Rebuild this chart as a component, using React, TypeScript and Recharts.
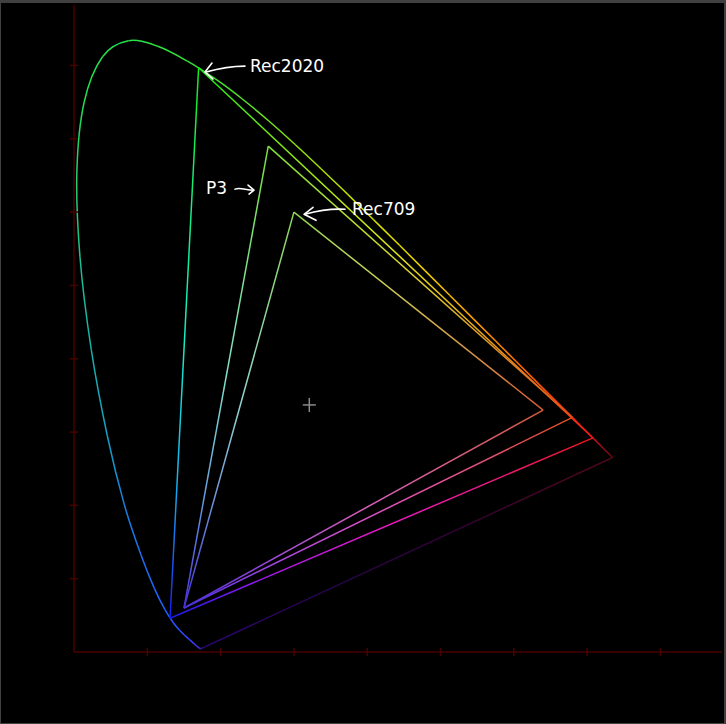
import React from "react";
import { ComposedChart, Line, Scatter, XAxis, YAxis } from "recharts";

// CIE 1931 2° spectral locus, 5 nm steps
const wavelengths = [
  380, 385, 390, 395, 400, 405, 410, 415, 420, 425, 430, 435, 440, 445, 450, 455, 460, 465, 470, 475, 480, 485,
  490, 495, 500, 505, 510, 515, 520, 525, 530, 535, 540, 545, 550, 555, 560, 565, 570, 575, 580, 585, 590, 595,
  600, 605, 610, 615, 620, 625, 630, 635, 640, 645, 650, 655, 660, 665, 670, 675, 680, 685, 690, 695, 700,
];
const locusX = [
  0.1741, 0.174, 0.1738, 0.1736, 0.1733, 0.173, 0.1726, 0.1721, 0.1714, 0.1703, 0.1689, 0.1669, 0.1644, 0.1611,
  0.1566, 0.151, 0.144, 0.1355, 0.1241, 0.1096, 0.0913, 0.0687, 0.0454, 0.0235, 0.0082, 0.0039, 0.0139, 0.0389,
  0.0743, 0.1142, 0.1547, 0.1929, 0.2296, 0.2658, 0.3016, 0.3373, 0.3731, 0.4087, 0.4441, 0.4788, 0.5125, 0.5448,
  0.5752, 0.6029, 0.627, 0.6482, 0.6658, 0.6801, 0.6915, 0.7006, 0.7079, 0.714, 0.719, 0.723, 0.726, 0.7283, 0.73,
  0.7311, 0.732, 0.7327, 0.7334, 0.734, 0.7344, 0.7346, 0.7347,
];
const locusY = [
  0.005, 0.005, 0.0049, 0.0049, 0.0048, 0.0048, 0.0048, 0.0048, 0.0051, 0.0058, 0.0069, 0.0086, 0.0109, 0.0138,
  0.0177, 0.0227, 0.0297, 0.0399, 0.0578, 0.0868, 0.1327, 0.2007, 0.295, 0.4127, 0.5384, 0.6548, 0.7502, 0.812,
  0.8338, 0.8262, 0.8059, 0.7816, 0.7543, 0.7243, 0.6923, 0.6589, 0.6245, 0.5896, 0.5547, 0.5202, 0.4866, 0.4544,
  0.4242, 0.3965, 0.3725, 0.3514, 0.334, 0.3197, 0.3083, 0.2993, 0.292, 0.2859, 0.2809, 0.277, 0.274, 0.2717, 0.27,
  0.2689, 0.268, 0.2673, 0.2666, 0.266, 0.2656, 0.2654, 0.2653,
];

// primaries: red, green, blue
const rec2020X = [0.708, 0.17, 0.131];
const rec2020Y = [0.292, 0.797, 0.046];
const p3X = [0.68, 0.265, 0.15];
const p3Y = [0.32, 0.69, 0.06];
const rec709X = [0.64, 0.3, 0.15];
const rec709Y = [0.33, 0.6, 0.06];

const whiteX = [0.321];
const whiteY = [0.337];

const labelNames = ["Rec2020", "P3", "Rec709"];
const labelTipX = [0.1787, 0.2456, 0.3138];
const labelTipY = [0.791, 0.63, 0.597];

const axisTicks = [0.1, 0.2, 0.3, 0.4, 0.5, 0.6, 0.7, 0.8];

const AXIS = "#4a0000";

const spectrumStops: [number, string][] = [
  [380, "#5a2cff"], [430, "#4a34ff"], [455, "#3048ff"], [470, "#2060ff"], [480, "#1c70f0"], [485, "#1880e0"],
  [490, "#14a0c4"], [495, "#18b0a8"], [500, "#1cc094"], [505, "#20d070"], [510, "#22dc52"], [520, "#24e445"],
  [535, "#40e030"], [545, "#70e020"], [555, "#a8e000"], [565, "#d4e000"], [575, "#eed000"], [585, "#ffa000"],
  [595, "#ff7000"], [605, "#ff4a08"], [615, "#ff2a18"], [627, "#f01424"], [635, "#b00c1c"], [650, "#880a14"],
  [700, "#700810"],
];

const hex = (s: string) => [1, 3, 5].map((i) => parseInt(s.slice(i, i + 2), 16));

function spectrumColor(w: number) {
  for (let i = 0; i < spectrumStops.length - 1; i++) {
    const [w0, c0] = spectrumStops[i];
    const [w1, c1] = spectrumStops[i + 1];
    if (w >= w0 && w <= w1) {
      const t = (w - w0) / (w1 - w0);
      const a = hex(c0);
      const b = hex(c1);
      const m = a.map((v, k) => Math.round(v + (b[k] - v) * t));
      return `rgb(${m[0]},${m[1]},${m[2]})`;
    }
  }
  return spectrumStops[spectrumStops.length - 1][1];
}

// xy -> normalized Rec2020 colour
function gamutColor(x: number, y: number, k = 0.9) {
  const X = x / y;
  const Z = (1 - x - y) / y;
  const r = Math.max(0, 1.7167 * X - 0.3557 - 0.2534 * Z);
  const g = Math.max(0, -0.6667 * X + 1.6165 + 0.0158 * Z);
  const b = Math.max(0, 0.0176 * X - 0.0428 + 0.9421 * Z);
  const m = Math.max(r, g, b);
  const enc = (v: number) => Math.round(255 * k * (0.1 + 0.9 * Math.pow(v / m, 1 / 2.2)));
  return `rgb(${enc(r)},${enc(g)},${enc(b)})`;
}

// draws only the middle piece of a 4-point Catmull-Rom run, so locus pieces join smoothly
const middleSpline = (context: any) => {
  let pts: number[][] = [];
  return {
    areaStart() {},
    areaEnd() {},
    lineStart() {
      pts = [];
    },
    point(x: number, y: number) {
      pts.push([x, y]);
    },
    lineEnd() {
      const [p0, p1, p2, p3] = pts;
      context.moveTo(p1[0], p1[1]);
      context.bezierCurveTo(
        p1[0] + (p2[0] - p0[0]) / 6,
        p1[1] + (p2[1] - p0[1]) / 6,
        p2[0] - (p3[0] - p1[0]) / 6,
        p2[1] - (p3[1] - p1[1]) / 6,
        p2[0],
        p2[1]
      );
    },
  };
};

type Pt = { x: number; y: number };
type Seg = { id: string; pts: Pt[]; stops: string[]; curve?: boolean };

const segments: Seg[] = [];
const last = locusX.length - 1;

// line of purples
segments.push({
  id: "purples",
  pts: [
    { x: locusX[0], y: locusY[0] },
    { x: locusX[last], y: locusY[last] },
  ],
  stops: ["#2a0674", "#26044a", "#340230", "#4c0818"],
});

const locPt = (i: number) => {
  const j = Math.max(0, Math.min(last, i));
  return { x: locusX[j], y: locusY[j] };
};

wavelengths.slice(0, -1).forEach((w, i) => {
  segments.push({
    id: `loc${i}`,
    pts: [locPt(i - 1), locPt(i), locPt(i + 1), locPt(i + 2)],
    stops: [spectrumColor(w), spectrumColor(wavelengths[i + 1])],
    curve: true,
  });
});

const gamuts = [
  { name: "rec2020", xs: rec2020X, ys: rec2020Y, k: 0.92 },
  { name: "p3", xs: p3X, ys: p3Y, k: 0.88 },
  { name: "rec709", xs: rec709X, ys: rec709Y, k: 0.84 },
];
gamuts.forEach((g) => {
  [[0, 1], [1, 2], [2, 0]].forEach(([a, b]) => {
    const p1 = { x: g.xs[a], y: g.ys[a] };
    const p2 = { x: g.xs[b], y: g.ys[b] };
    const stops = [0, 0.25, 0.5, 0.75, 1].map((t) =>
      gamutColor(p1.x + (p2.x - p1.x) * t, p1.y + (p2.y - p1.y) * t, g.k)
    );
    segments.push({ id: `${g.name}${a}${b}`, pts: [p1, p2], stops });
  });
});

const ends = (s: Seg) => (s.curve ? [s.pts[1], s.pts[2]] : [s.pts[0], s.pts[1]]);
const flat = (s: Seg) => {
  const [p1, p2] = ends(s);
  return Math.abs(p1.x - p2.x) < 4e-4 || Math.abs(p1.y - p2.y) < 4e-4;
};

const Gradient = ({ s }: { s: Seg }) => {
  const [p1, p2] = ends(s);
  const gx1 = p1.x <= p2.x ? 0 : 1;
  const gy1 = p1.y >= p2.y ? 0 : 1;
  return (
    <linearGradient id={s.id} x1={gx1} y1={gy1} x2={1 - gx1} y2={1 - gy1}>
      {s.stops.map((c, i) => (
        <stop key={i} offset={i / (s.stops.length - 1)} stopColor={c} />
      ))}
    </linearGradient>
  );
};

const annotationStyle: Record<string, { shaft: string; head: string; tx: number; ty: number; anchor: "start" | "end" }> = {
  Rec2020: { shaft: "M40,-6 Q22,-6 1,0", head: "M7,-9 L0,0 L8,7", tx: 45, ty: 0, anchor: "start" },
  P3: { shaft: "M-19,-1 C-14,-3 -8,0 -1,0", head: "M-6,-5 L0,0 L-5,4", tx: -27, ty: 4, anchor: "end" },
  Rec709: { shaft: "M41,-5 Q22,-6 1,0", head: "M9,-7 L0,0 L12,6", tx: 48, ty: 1, anchor: "start" },
};

const Annotation = (props: any) => {
  const { cx, cy, payload } = props;
  const st = annotationStyle[payload.name];
  return (
    <g transform={`translate(${cx},${cy})`}>
      <path d={st.shaft} fill="none" stroke="#fff" strokeWidth={1.6} strokeLinecap="round" />
      <path d={st.head} fill="none" stroke="#fff" strokeWidth={1.6} strokeLinecap="round" strokeLinejoin="round" />
      <text x={st.tx} y={st.ty} textAnchor={st.anchor} fill="#fff" fontSize={17} fontFamily="DejaVu Sans">
        {payload.name}
      </text>
    </g>
  );
};

const Crosshair = (props: any) => {
  const { cx, cy } = props;
  return (
    <g stroke="#8a8a8a" strokeWidth={1.5}>
      <line x1={cx - 6.5} x2={cx + 6.5} y1={cy} y2={cy} />
      <line x1={cx} x2={cx} y1={cy - 7} y2={cy + 7} />
    </g>
  );
};

const XTick = (props: any) => (
  <line x1={props.x} x2={props.x} y1={props.y - 4} y2={props.y + 4} stroke={AXIS} strokeWidth={1.5} />
);
const YTick = (props: any) => (
  <line x1={props.x - 4} x2={props.x + 4} y1={props.y} y2={props.y} stroke={AXIS} strokeWidth={1.5} />
);

const whiteData = whiteX.map((x, i) => ({ x, y: whiteY[i] }));
const labelData = labelNames.map((name, i) => ({ x: labelTipX[i], y: labelTipY[i], name }));

export default function App() {
  return (
    <div style={{ position: "relative", width: 726, height: 724, background: "#404040" }}>
      <style>{"body{margin:0}"}</style>
      <div style={{ position: "absolute", left: 1, top: 3, width: 723, height: 720, background: "#000" }} />
      <svg width={0} height={0} style={{ position: "absolute" }}>
        <defs>
          {segments.filter((s) => !flat(s)).map((s) => (
            <Gradient key={s.id} s={s} />
          ))}
        </defs>
      </svg>
      <div style={{ position: "absolute", left: 0, top: 0 }}>
        <ComposedChart width={726} height={724} margin={{ top: 5, right: 4, left: 44, bottom: 42 }}>
          <XAxis
            type="number"
            dataKey="x"
            domain={[0, 0.884]}
            ticks={axisTicks}
            interval={0}
            height={30}
            tickSize={0}
            tickMargin={0}
            tickLine={false}
            axisLine={{ stroke: AXIS, strokeWidth: 1.5 }}
            tick={(p: any) => <XTick {...p} />}
            allowDataOverflow
          />
          <YAxis
            type="number"
            dataKey="y"
            domain={[0, 0.8825]}
            ticks={axisTicks}
            interval={0}
            width={30}
            tickSize={0}
            tickMargin={0}
            tickLine={false}
            axisLine={{ stroke: AXIS, strokeWidth: 1.5 }}
            tick={(p: any) => <YTick {...p} />}
            allowDataOverflow
          />
          {segments.map((s) => (
            <Line
              key={s.id}
              data={s.pts}
              dataKey="y"
              type={s.curve ? (middleSpline as any) : "linear"}
              stroke={flat(s) ? s.stops[0] : `url(#${s.id})`}
              strokeWidth={1.5}
              dot={false}
              activeDot={false}
              legendType="none"
              isAnimationActive={false}
            />
          ))}
          <Scatter data={whiteData} dataKey="y" shape={(p: any) => <Crosshair {...p} />} isAnimationActive={false} />
          <Scatter data={labelData} dataKey="y" shape={(p: any) => <Annotation {...p} />} isAnimationActive={false} />
        </ComposedChart>
      </div>
    </div>
  );
}
